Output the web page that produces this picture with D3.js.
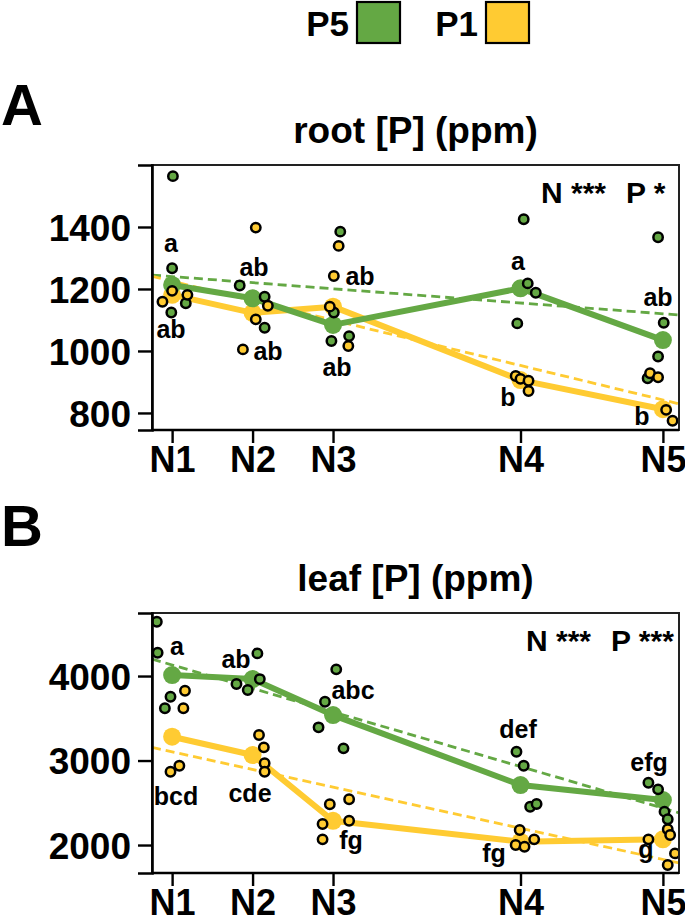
<!DOCTYPE html>
<html><head><meta charset="utf-8">
<script src="https://cdn.jsdelivr.net/npm/d3@7"></script>
<style>body{margin:0;background:#fff}svg{display:block}text{font-family:"Liberation Sans",Arial,sans-serif;font-weight:bold;fill:#000}</style>
</head><body>
<script>
// ---------- data ----------
const nLabels = ["N1","N2","N3","N4","N5"];
const nLevels = [1, 2, 3, 5.33, 7.1];
const seriesNames = ["P5","P1"];
const seriesColors = ["#64A844","#FFCB32"];

// root [P] (ppm)
const rootP5 = [[1564,1267,1154,1124],[1211,1175,1075],[1385,1124,1032,1048],[1425,1218,1188,1089],[1367,1091,982,912]];
const rootP5Jit = [[0.01,0,0.17,-0.01],[-0.16,0.15,0.15],[0.09,0.01,-0.02,0.2],[0.04,0.09,0.19,-0.04],[-0.06,0.01,-0.06,-0.19]];
const rootP1 = [[1194,1159,1181],[1398,1146,1102,1005],[1339,1242,1143,1016],[919,910,904,871],[928,915,810,775]];
const rootP1Jit = [[0,-0.12,0.19],[0.04,0.19,0.04,-0.12],[0.07,0.01,-0.04,0.19],[-0.06,0,0.1,0.1],[-0.16,-0.06,0.04,0.12]];
const rootMeanP5 = [1213,1170,1084,1202,1035];
const rootMeanP1 = [1181,1123,1143,906,812];
const rootTrendP5 = [1240,1120]; // fitted value at N1 and N5
const rootTrendP1 = [1225,842];
const rootTicks = [800,1000,1200,1400];
const rootLettersP5 = ["a","ab","ab","a","ab"];
const rootLettersP1 = ["ab","ab","ab","b","b"];
const rootStats = ["N ***","P *"];

// leaf [P] (ppm)
const leafP5 = [[4643,4276,3755,3618],[4268,3905,3964,3834],[4079,3696,3393,3144],[3104,2939,2453,2485],[2737,2659,2395,2305]];
const leafP5Jit = [[-0.19,-0.18,-0.02,-0.09],[0.06,-0.2,0.09,-0.06],[0.04,-0.1,-0.18,0.13],[-0.05,0.04,0.12,0.2],[-0.18,-0.06,0.02,0.06]];
const leafP1 = [[3826,3618,2939,2867],[3302,3156,2967,2867],[2541,2482,2287,2249,2067],[2178,2067,2000,1980],[2186,2118,2067,1901,1763]];
const leafP1Jit = [[0.16,0.14,0.09,-0.02],[0.08,0.14,0.15,0.15],[0.2,-0.04,0.2,-0.13,-0.13],[-0.01,0.17,-0.06,0.05],[0.06,0.09,-0.18,0.15,0.06]];
const leafMeanP5 = [4012,3964,3538,2710,2533];
const leafMeanP1 = [3282,3065,2287,2039,2067];
const leafTrendP5 = [4131,2437];
const leafTrendP1 = [3103,1830];
const leafTicks = [2000,3000,4000];
const leafLettersP5 = ["a","ab","abc","def","efg"];
const leafLettersP1 = ["bcd","cde","fg","fg","g"];
const leafStats = ["N ***","P ***"];

// ---------- drawing ----------
const W = 685, H = 923;
const svg = d3.select("body").append("svg").attr("width", W).attr("height", H);
const x = d3.scaleLinear().domain([0.75, 7.3]).range([152, 679]);

function text(g, px, py, s, size, anchor) {
  return g.append("text").attr("x", px).attr("y", py).attr("font-size", size)
    .attr("text-anchor", anchor || "start").text(s);
}

// legend
seriesNames.forEach((nm, i) => {
  const bx = [357, 486][i];
  text(svg, bx - 8, 36, nm, 35, "end");
  svg.append("rect").attr("x", bx).attr("y", 2).attr("width", 43).attr("height", 41)
    .attr("fill", seriesColors[i]).attr("stroke", "#000").attr("stroke-width", 2.2);
});

function panel(cfg) {
  const g = svg.append("g");
  const y = d3.scaleLinear().domain(cfg.domain).range([cfg.bottom, cfg.top]);
  text(g, 1, cfg.letterY, cfg.letter, 58);
  text(g, (152 + 679) / 2, cfg.top - 22, cfg.title, 37, "middle");

  const clipId = "clip" + cfg.letter;
  g.append("clipPath").attr("id", clipId).append("rect")
    .attr("x", 152).attr("y", cfg.top).attr("width", 527).attr("height", cfg.bottom - cfg.top);
  const plot = g.append("g").attr("clip-path", `url(#${clipId})`);

  // dashed trend lines
  const [x0, x1] = x.domain();
  [cfg.trendP5, cfg.trendP1].forEach((t, i) => {
    const slope = (t[1] - t[0]) / (nLevels[4] - nLevels[0]);
    const f = v => t[0] + slope * (v - nLevels[0]);
    plot.append("line").attr("x1", x(x0)).attr("x2", x(x1))
      .attr("y1", y(f(x0))).attr("y2", y(f(x1)))
      .attr("stroke", seriesColors[i]).attr("stroke-width", 2.8).attr("stroke-dasharray", "9,5");
  });

  // mean lines (P1 below P5)
  const line = d3.line().x((d, i) => x(nLevels[i])).y(d => y(d));
  [[cfg.meanP1, 1], [cfg.meanP5, 0]].forEach(([m, i]) => {
    plot.append("path").attr("d", line(m)).attr("fill", "none")
      .attr("stroke", seriesColors[i]).attr("stroke-width", 6).attr("stroke-linejoin", "round");
    plot.selectAll(null).data(m).enter().append("circle")
      .attr("cx", (d, k) => x(nLevels[k])).attr("cy", d => y(d)).attr("r", 9)
      .attr("fill", seriesColors[i]);
  });

  // replicate points
  [[cfg.ptsP5, cfg.jitP5, 0], [cfg.ptsP1, cfg.jitP1, 1]].forEach(([pts, jit, i]) => {
    const flat = [];
    pts.forEach((arr, k) => arr.forEach((v, j) => flat.push({ n: nLevels[k] + jit[k][j], v })));
    plot.selectAll(null).data(flat).enter().append("circle")
      .attr("cx", d => x(d.n)).attr("cy", d => y(d.v)).attr("r", 4.7)
      .attr("fill", seriesColors[i]).attr("stroke", "#000").attr("stroke-width", 2.5);
  });

  // frame
  g.append("rect").attr("x", 152).attr("y", cfg.top).attr("width", 527).attr("height", cfg.bottom - cfg.top)
    .attr("fill", "none").attr("stroke", "#222").attr("stroke-width", 2);

  // axes
  const ya = g.append("g").attr("transform", "translate(152,0)")
    .call(d3.axisLeft(y).tickValues(cfg.ticks).tickSize(14).tickPadding(7).tickFormat(d3.format("d")));
  ya.select(".domain").attr("stroke-width", 2.6);
  ya.selectAll(".tick line").attr("stroke-width", 2.4);
  ya.selectAll("text").attr("font-size", 37).attr("font-family", '"Liberation Sans",Arial,sans-serif')
    .attr("font-weight", "bold").attr("dy", "0.36em");

  const xa = g.append("g").attr("transform", `translate(0,${cfg.bottom})`)
    .call(d3.axisBottom(x).tickValues(nLevels).tickSize(13).tickPadding(3).tickFormat((d, i) => nLabels[i]));
  xa.select(".domain").attr("stroke-width", 2.6).attr("d", `M152,0H679`);
  xa.selectAll(".tick line").attr("stroke-width", 2.4);
  xa.selectAll("text").attr("font-size", 36).attr("font-family", '"Liberation Sans",Arial,sans-serif')
    .attr("font-weight", "bold").attr("dy", "0.72em");

  // significance letters
  cfg.lettersP5.forEach((s, k) => { const p = cfg.letPosP5[k]; text(g, p[0], p[1], s, 25, "middle"); });
  cfg.lettersP1.forEach((s, k) => { const p = cfg.letPosP1[k]; text(g, p[0], p[1], s, 25, "middle"); });

  // stats
  cfg.stats.forEach((s, k) => text(g, cfg.statX[k], cfg.top + 38, s, 30));
}

panel({
  letter: "A", letterY: 125, title: "root [P] (ppm)", top: 165, bottom: 430, domain: [745, 1600],
  ticks: rootTicks, ptsP5: rootP5, jitP5: rootP5Jit, ptsP1: rootP1, jitP1: rootP1Jit,
  meanP5: rootMeanP5, meanP1: rootMeanP1, trendP5: rootTrendP5, trendP1: rootTrendP1,
  lettersP5: rootLettersP5, lettersP1: rootLettersP1,
  letPosP5: [[171,252],[254,276],[337,376],[518,270],[658,306]],
  letPosP1: [[171,338],[268,360],[360,285],[508,406],[642,425]],
  stats: rootStats, statX: [541, 626]
});

panel({
  letter: "B", letterY: 546, title: "leaf [P] (ppm)", top: 613, bottom: 873, domain: [1669, 4746],
  ticks: leafTicks, ptsP5: leafP5, jitP5: leafP5Jit, ptsP1: leafP1, jitP1: leafP1Jit,
  meanP5: leafMeanP5, meanP1: leafMeanP1, trendP5: leafTrendP5, trendP1: leafTrendP1,
  lettersP5: leafLettersP5, lettersP1: leafLettersP1,
  letPosP5: [[177,655],[236,668],[353,699],[518,738],[649,771]],
  letPosP1: [[176,805],[250,802],[351,849],[494,862],[646,858]],
  stats: leafStats, statX: [526, 611]
});
</script>
</body></html>
